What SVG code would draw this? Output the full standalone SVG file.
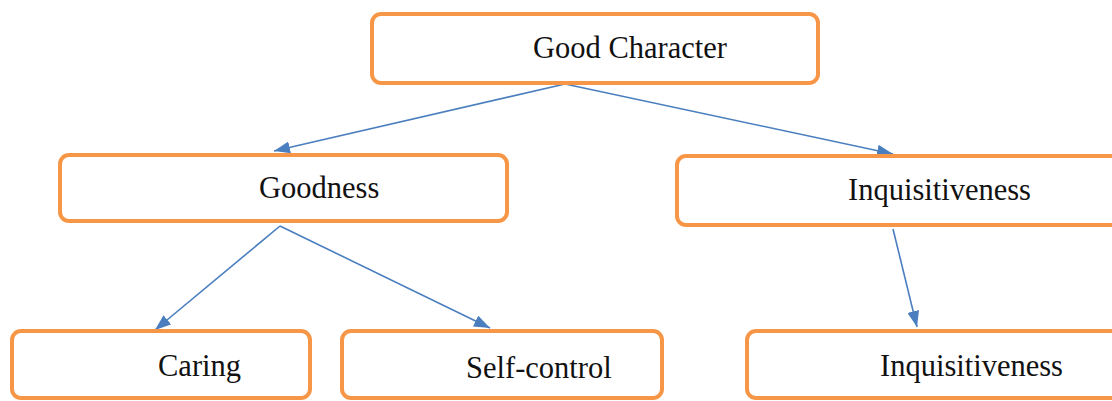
<svg xmlns="http://www.w3.org/2000/svg" width="1112" height="401" viewBox="0 0 1112 401">
<style>
.box{fill:#fff;stroke:#F79646;stroke-width:4}
.lbl{font-family:"Liberation Serif","Times New Roman",serif;font-size:30.5px;fill:#111}
.con{stroke:#4A7EBF;stroke-width:1.6;fill:none}
</style>
<defs>
<marker id="ah" viewBox="0 0 10 10" refX="10" refY="5" markerWidth="9" markerHeight="9" markerUnits="userSpaceOnUse" orient="auto">
<path d="M0,0 L10,5 L0,10 z" fill="#4A7EBF"/>
</marker>
<marker id="ah2" viewBox="0 0 16 12" refX="16" refY="6" markerWidth="16" markerHeight="12" markerUnits="userSpaceOnUse" orient="auto">
<path d="M0,0 L16,6 L0,12 z" fill="#4A7EBF"/>
</marker>
</defs>
<rect width="1112" height="401" fill="#fff"/>
<g id="connectors">
<line class="con" x1="565" y1="84" x2="274" y2="151" marker-end="url(#ah2)"/>
<line class="con" x1="565" y1="84" x2="893" y2="154" marker-end="url(#ah2)"/>
<line class="con" x1="280" y1="226" x2="155" y2="330" marker-end="url(#ah2)"/>
<line class="con" x1="280" y1="226" x2="490" y2="328" marker-end="url(#ah2)"/>
<line class="con" x1="893" y1="229" x2="917" y2="327" marker-end="url(#ah2)"/>
</g>
<g id="good-character">
<rect class="box" x="372" y="14" width="446" height="69" rx="9"/>
<text class="lbl" x="533" y="58">Good Character</text>
</g>
<g id="goodness">
<rect class="box" x="60" y="155" width="447" height="66" rx="9"/>
<text class="lbl" x="259" y="198">Goodness</text>
</g>
<g id="inquisitiveness-1">
<rect class="box" x="677" y="156" width="460" height="69" rx="9"/>
<text class="lbl" x="848" y="200">Inquisitiveness</text>
</g>
<g id="caring">
<rect class="box" x="12" y="331" width="298" height="67" rx="9"/>
<text class="lbl" x="158" y="376">Caring</text>
</g>
<g id="self-control">
<rect class="box" x="342" y="331" width="320" height="67" rx="9"/>
<text class="lbl" x="466" y="378">Self-control</text>
</g>
<g id="inquisitiveness-2">
<rect class="box" x="747" y="331" width="400" height="67" rx="9"/>
<text class="lbl" x="880" y="376">Inquisitiveness</text>
</g>
</svg>
